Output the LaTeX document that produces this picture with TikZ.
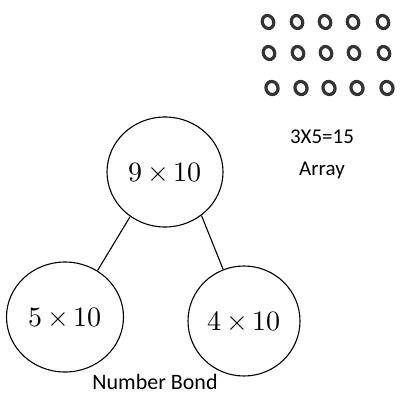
\documentclass[tikz,border=0pt]{standalone}
\usepackage{fontspec}
\setmainfont{Carlito}
\usepackage{unicode-math}
\usetikzlibrary{shapes.geometric}
\newcommand{\bondprod}[2]{$#1\mskip3mu{\times}\mskip3mu#2$}
\begin{document}
\begin{tikzpicture}[x=1pt,y=-1pt,
  bond/.style={draw,line width=1.1pt,ellipse,inner sep=0pt},
  prod/.style={font=\fontsize{28}{30}\selectfont},
  link/.style={line width=1.1pt},
  dot/.style={draw=black!80,line width=3.2pt},
  caption/.style={inner sep=0pt,font=\fontsize{22}{26}\selectfont}]
\useasboundingbox (0,0) rectangle (404,396);
\fill[white] (0,0) rectangle (404,396);
% number bond
\node[bond,minimum width=116pt,minimum height=110pt,prod] (whole) at (165,172) {\bondprod{9}{10}};
\node[bond,minimum width=117pt,minimum height=110pt,prod] (left) at (65,317) {\bondprod{5}{10}};
\node[bond,minimum width=112pt,minimum height=110pt,prod] (right) at (244,321) {\bondprod{4}{10}};
\draw[link] (whole.232) -- (left.55);
\draw[link] (whole.310) -- (right.112);
\node[caption,anchor=base] (bondcap) at (155,389) {Number Bond};
% 3 by 5 array of counters
\foreach \x [count=\i] in {268,297,325,353,383}{
  \draw[dot,rotate around={20:(\x,22)}] (\x,22) ellipse (5.6pt and 6.6pt);
  \draw[dot,rotate around={20:(\x+1,53)}] (\x+1,53) ellipse (5.6pt and 6.6pt);
  \draw[dot,rotate around={20:(\x+4,88)}] (\x+4,88) ellipse (6pt and 6.6pt);
}
\node[caption,font=\fontsize{21}{24}\selectfont] (eq) at (322,137) {3X5=15};
\node[caption,font=\fontsize{21}{24}\selectfont] (arr) at (322,170) {Array};
\end{tikzpicture}
\end{document}
